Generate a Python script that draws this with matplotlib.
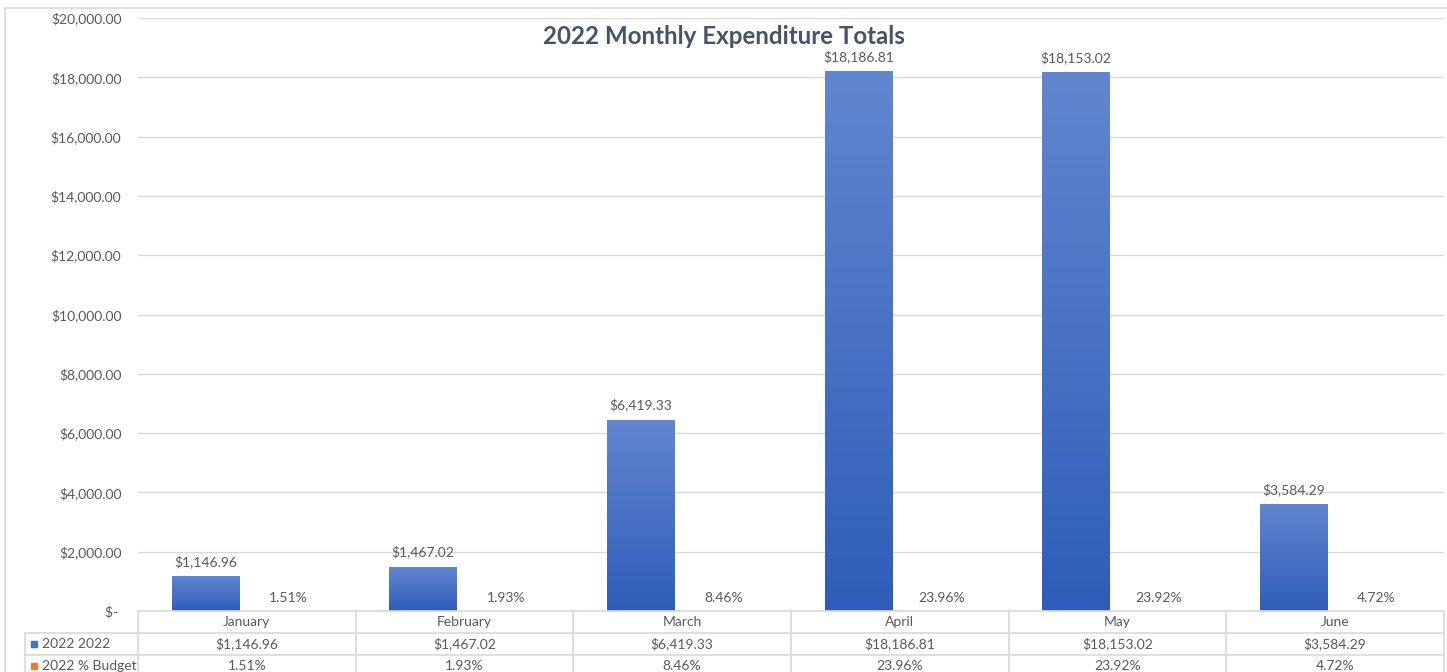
import numpy as np
import matplotlib
matplotlib.use("Agg")
import matplotlib.pyplot as plt
from matplotlib.patches import Rectangle
from matplotlib.lines import Line2D
from matplotlib.colors import LinearSegmentedColormap
from matplotlib import transforms

months = ["January", "February", "March", "April", "May", "June"]
totals = [1146.96, 1467.02, 6419.33, 18186.81, 18153.02, 3584.29]
pct_budget = [0.0151, 0.0193, 0.0846, 0.2396, 0.2392, 0.0472]
series_names = ["2022 2022", "2022 % Budget"]
yticks = [0, 2000, 4000, 6000, 8000, 10000, 12000, 14000, 16000, 18000, 20000]

W, H = 1447, 672
plt.rcParams['font.family'] = ['Lato', 'DejaVu Sans']
grey = "#595959"
grid_c = "#D9D9D9"

fig = plt.figure(figsize=(W / 100, H / 100), dpi=100)
ax = fig.add_axes([138 / W, 1 - 611 / H, 1306 / W, 593 / H])

def fx(px):
    return px / W

def fy(py):
    return 1 - py / H

x = np.arange(len(months))
bw = 0.31
b1 = ax.bar(x - 0.19, totals, width=bw, color="#4472C4", zorder=2)
b2 = ax.bar(x + 0.19, pct_budget, width=bw, color="#ED7D31", zorder=2)

# gradient fill on the blue bars
cmap = LinearSegmentedColormap.from_list("g", ["#2E5DB9", "#6286CF"])
grad = np.linspace(0, 1, 256).reshape(-1, 1)
for p in b1:
    ax.imshow(grad, extent=[p.get_x(), p.get_x() + p.get_width(), 0, p.get_height()],
              origin="lower", cmap=cmap, aspect="auto", zorder=3)

for p, v in zip(b1, totals):
    ax.annotate(f"${v:,.2f}", (p.get_x() + p.get_width() / 2, p.get_height()),
                xytext=(0, 6.5), textcoords="offset points", ha="center", va="bottom",
                fontsize=10, color=grey)
for p, v in zip(b2, pct_budget):
    ax.annotate(f"{v * 100:.2f}%", (p.get_x() + p.get_width() / 2, p.get_height()),
                xytext=(0, 5), textcoords="offset points", ha="center", va="bottom",
                fontsize=10, color=grey)

ax.set_xlim(-0.5, len(months) - 0.5)
ax.set_ylim(0, 20000)
ax.set_yticks(yticks)
ax.set_yticklabels(["$- " if t == 0 else f"${t:,.2f}" for t in yticks])
ax.tick_params(axis="y", length=0, pad=12, labelsize=10, labelcolor=grey)
ax.set_xticks([])
ax.grid(axis="y", color=grid_c, linewidth=1, zorder=0)
for s in ax.spines.values():
    s.set_visible(False)

fig.text(0.5, fy(37), "2022 Monthly Expenditure Totals", ha="center", va="center",
         fontsize=17.4, fontweight="bold", color="#44546A")

# chart border
fig.add_artist(Line2D([fx(5), fx(5)], [fy(8), 0], color=grid_c, lw=1.2))
fig.add_artist(Line2D([fx(5), 1], [fy(8), fy(8)], color=grid_c, lw=1.2))

# data table under the axis
bt = transforms.blended_transform_factory(ax.transData, fig.transFigure)
for ry in [633, 655]:
    fig.add_artist(Line2D([fx(25), fx(1443)], [fy(ry), fy(ry)], color=grid_c, lw=1.2))
fig.add_artist(Line2D([fx(25), fx(25)], [fy(633), 0], color=grid_c, lw=1.2))
for i in range(len(months) + 1):
    fig.add_artist(Line2D([i - 0.5, i - 0.5], [fy(611), 0], color=grid_c, lw=1.2,
                          transform=bt))
fig.add_artist(Line2D([fx(138), fx(1443)], [fy(611), fy(611)], color=grid_c, lw=1.2))

for i, m in enumerate(months):
    fig.text(i, fy(622), m, transform=bt, ha="center", va="center", fontsize=10, color=grey)
    fig.text(i, fy(644), f"${totals[i]:,.2f}", transform=bt, ha="center", va="center",
             fontsize=10, color=grey)
    fig.text(i, fy(666), f"{pct_budget[i] * 100:.2f}%", transform=bt, ha="center",
             va="center", fontsize=10, color=grey)

for name, c, ry in zip(series_names, ["#4472C4", "#ED7D31"], [644, 666]):
    fig.add_artist(Rectangle((fx(31), fy(ry + 3)), 6 / W, 6 / H, color=c,
                             transform=fig.transFigure))
    fig.text(fx(42), fy(ry), name, ha="left", va="center", fontsize=10, color=grey)

fig.savefig("out.png", dpi=100)
